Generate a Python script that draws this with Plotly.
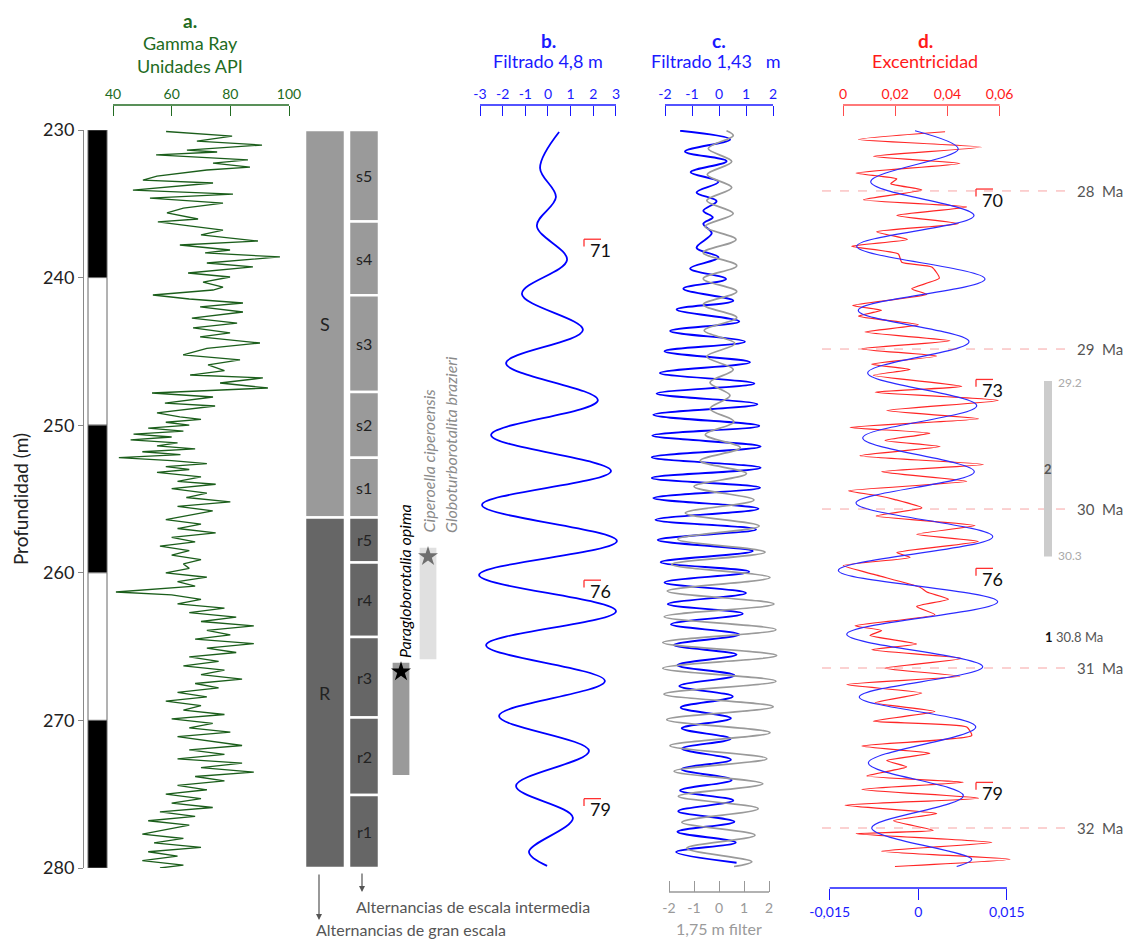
import plotly.graph_objects as go

W, H = 1124, 941
def px(x):
    return x / W
def py(y):
    return 1 - y / H

FONT = "Lato"
GREEN = "#226b22"
BLUE = "#1a1aff"
RED = "#ff1a1a"

# ---------------- data ----------------
depth_ticks = [230, 240, 250, 260, 270, 280]
bw_bounds = [230, 240, 250, 260, 270, 280]
bw_colors = ["black", "white", "black", "white", "black"]

gr_depth = [230.1, 230.2, 230.41, 230.75, 231.02, 231.36, 231.49, 231.69, 232.03, 232.24,
            232.51, 232.71, 233.12, 233.39, 233.59, 234.07, 234.34, 234.61, 234.95, 235.3,
            235.62, 236.03, 236.23, 236.5, 236.78, 237.1, 237.52, 237.79, 238.13, 238.33,
            238.6, 239.01, 239.28, 239.69, 239.96, 240.3, 240.64, 240.84, 241.18, 241.45,
            241.72, 241.99, 242.33, 242.74, 243.08, 243.41, 243.75, 244.02, 244.43, 244.8,
            245.24, 245.58, 245.92, 246.3, 246.6, 246.8, 247.14, 247.48, 247.82, 248.09,
            248.5, 248.7, 249.17, 249.44, 249.6, 249.8, 250.0, 250.2, 250.4, 250.6,
            250.8, 251.0, 251.2, 251.4, 251.6, 251.8, 252.0, 252.2, 252.4, 252.6,
            252.8, 253.0, 253.2, 253.5, 253.8, 254.0, 254.3, 254.6, 254.9, 255.2,
            255.5, 255.8, 256.1, 256.4, 256.7, 257.0, 257.3, 257.6, 257.9, 258.2,
            258.5, 258.8, 259.1, 259.4, 259.7, 260.0, 260.3, 260.6, 260.9, 261.1,
            261.3, 261.5, 261.8, 262.1, 262.4, 262.7, 263.0, 263.3, 263.6, 263.9,
            264.2, 264.5, 264.8, 265.1, 265.4, 265.7, 266.0, 266.3, 266.6, 266.9,
            267.2, 267.5, 267.8, 268.1, 268.4, 268.7, 269.0, 269.3, 269.6, 269.9,
            270.2, 270.5, 270.8, 271.1, 271.4, 271.7, 272.0, 272.3, 272.6, 272.9,
            273.2, 273.5, 273.8, 274.1, 274.4, 274.7, 275.0, 275.3, 275.6, 275.9,
            276.2, 276.5, 276.8, 277.1, 277.4, 277.7, 278.0, 278.3, 278.6, 278.9,
            279.2, 279.5, 279.8, 280.0]
gr_api = [58.1, 66.3, 80.6, 68.6, 90.8, 65.2, 75.5, 54.7, 86.0, 74.1,
          86.7, 72.0, 55.0, 50.2, 74.1, 46.8, 80.9, 52.6, 77.5, 64.0,
          58.4, 69.0, 55.3, 66.0, 77.5, 70.0, 89.4, 62.8, 79.9, 71.4,
          96.9, 72.0, 87.7, 65.6, 79.9, 70.7, 77.5, 74.1, 53.6, 66.0,
          84.3, 69.7, 84.3, 66.9, 82.3, 67.3, 79.9, 69.7, 90.1, 72.0,
          63.9, 83.3, 72.4, 78.0, 66.3, 91.1, 76.5, 92.8, 53.3, 74.1,
          57.7, 74.8, 55.0, 62.8, 70.0, 58.0, 66.0, 52.0, 64.0, 47.0,
          60.0, 46.0, 62.0, 55.0, 68.0, 50.0, 63.0, 42.0, 60.0, 72.0,
          58.0, 66.0, 55.0, 70.0, 62.0, 75.0, 60.0, 72.0, 65.0, 80.0,
          62.0, 74.0, 66.0, 58.0, 70.0, 62.0, 75.0, 60.0, 68.0, 56.0,
          66.0, 60.0, 70.0, 64.0, 66.0, 58.0, 72.0, 62.0, 68.0, 55.0,
          41.0, 60.0, 70.0, 62.0, 78.0, 66.0, 82.0, 70.0, 88.0, 72.0,
          80.0, 68.0, 88.0, 72.0, 82.0, 66.0, 76.0, 64.0, 78.0, 70.0,
          84.0, 68.0, 76.0, 62.0, 72.0, 58.0, 70.0, 64.0, 78.0, 60.0,
          74.0, 66.0, 80.0, 62.0, 74.0, 84.0, 66.0, 78.0, 62.0, 84.0,
          70.0, 88.0, 68.0, 78.0, 62.0, 72.0, 58.0, 70.0, 60.0, 74.0,
          56.0, 68.0, 52.0, 66.0, 58.0, 50.0, 64.0, 54.0, 70.0, 52.0,
          62.0, 50.0, 64.0, 56.0]

b_depth = [230.14, 232.57, 234.54, 236.5, 238.8, 241.1, 243.55, 245.8, 248.3, 250.66,
           253.1, 255.4, 257.85, 260.15, 262.6, 264.9, 267.33, 269.7, 272.07, 274.44,
           276.6, 278.9, 279.86]
b_val = [0.49, -0.35, 0.35, -0.49, 0.84, -1.15, 1.54, -1.85, 2.2, -2.51,
         2.78, -2.91, 3.04, -3.04, 3.0, -2.73, 2.51, -2.16, 1.81, -1.41,
         1.1, -0.84, -0.04]

c_depth = [230.05, 230.64, 231.46, 232.11, 232.86, 233.51, 234.23, 234.82, 235.47, 235.92,
           236.35, 237.0, 237.98, 238.63, 239.38, 240.1, 240.75, 241.57, 242.16, 242.97,
           243.62, 244.34, 244.99, 245.74, 246.46, 247.18, 247.86, 248.58, 249.3, 250.05,
           250.7, 251.45, 252.17, 252.89, 253.57, 254.23, 254.94, 255.66, 256.41, 257.06,
           257.78, 258.53, 259.28, 259.93, 260.65, 261.37, 262.12, 262.77, 263.49, 264.18,
           264.89, 265.54, 266.26, 266.95, 267.67, 268.38, 269.13, 269.85, 270.54, 271.25,
           271.91, 272.66, 273.31, 274.03, 274.75, 275.43, 276.15, 276.86, 277.55, 278.27,
           278.92, 279.64]
c_val = [-1.44, 0.41, -1.26, 0.28, -1.05, -0.02, -0.83, -0.09, -0.58, -0.23,
         -0.58, -0.27, -0.83, -0.02, -1.07, 0.26, -1.32, 0.53, -1.57, 0.75,
         -1.81, 0.96, -2.02, 1.15, -2.19, 1.31, -2.31, 1.42, -2.43, 1.49,
         -2.47, 1.54, -2.49, 1.54, -2.49, 1.52, -2.43, 1.46, -2.35, 1.37,
         -2.27, 1.25, -2.16, 1.12, -2.02, 1.0, -1.9, 0.88, -1.78, 0.75,
         -1.67, 0.65, -1.54, 0.57, -1.47, 0.51, -1.42, 0.44, -1.38, 0.43,
         -1.37, 0.44, -1.39, 0.47, -1.44, 0.53, -1.51, 0.57, -1.54, 0.62,
         -1.59, 0.65]

cg_depth = [230.05, 230.38, 231.26, 232.14, 233.02, 233.9, 234.78, 235.66, 236.54, 237.42,
            238.31, 239.19, 240.07, 240.95, 241.83, 242.71, 243.59, 244.47, 245.35, 246.23,
            247.11, 247.99, 248.88, 249.76, 250.64, 251.52, 252.4, 253.28, 254.16, 255.07,
            255.95, 256.83, 257.72, 258.6, 259.44, 260.32, 261.24, 262.12, 262.97, 263.85,
            264.73, 265.61, 266.46, 267.34, 268.22, 269.07, 269.95, 270.83, 271.71, 272.59,
            273.44, 274.29, 275.14, 275.98, 276.9, 277.78, 278.66, 279.57, 279.9]
cg_val = [0.3, 0.57, -0.43, 0.51, -0.47, 0.51, -0.49, 0.57, -0.56, 0.68,
          -0.63, 0.71, -0.63, 0.71, -0.63, 0.71, -0.59, 0.64, -0.49, 0.57,
          -0.36, 0.44, -0.36, 0.6, -0.55, 0.85, -0.75, 1.1, -1.0, 1.4,
          -1.35, 1.61, -1.65, 1.84, -1.89, 2.04, -2.07, 2.2, -2.19, 2.28,
          -2.25, 2.31, -2.25, 2.28, -2.2, 2.17, -2.09, 2.04, -1.96, 1.91,
          -1.8, 1.75, -1.63, 1.57, -1.49, 1.44, -1.29, 1.31, 0.6]

d_red_depth = [230.12, 230.64, 231.16, 231.78, 232.27, 232.92, 233.31, 233.64, 234.06, 234.72,
               235.21, 235.79, 236.35, 236.9, 237.42, 237.88, 238.4, 238.96, 239.28, 240.04,
               240.75, 241.14, 241.89, 242.22, 242.61, 243.2, 243.69, 244.28, 244.83, 245.32,
               245.87, 246.23, 246.62, 247.37, 247.77, 248.32, 249.01, 249.56, 250.15, 250.54,
               251.03, 251.45, 252.07, 252.66, 253.15, 253.8, 254.45, 254.78, 255.04, 255.6,
               256.15, 256.8, 257.39, 257.88, 258.63, 258.96, 259.51, 260.16, 260.98, 261.3,
               261.79, 262.28, 262.84, 263.59, 263.91, 264.24, 264.83, 265.22, 265.81, 266.46,
               267.01, 267.57, 268.15, 268.81, 269.4, 270.05, 270.44, 271.03, 271.74, 272.23,
               272.72, 273.15, 273.77, 274.19, 274.68, 275.27, 275.75, 276.31, 276.8, 277.45,
               277.68, 278.27, 278.86, 279.41, 279.9]
d_red_val = [0.0391, 0.0059, 0.0531, 0.0116, 0.0448, 0.005, 0.0206, 0.0183, 0.0302, 0.0078,
             0.0474, 0.0206, 0.0442, 0.0129, 0.0247, 0.0033, 0.0212, 0.0225, 0.034, 0.0369,
             0.0263, 0.0321, 0.0037, 0.0148, 0.0059, 0.0289, 0.0084, 0.041, 0.0072, 0.0359,
             0.011, 0.0257, 0.0116, 0.0455, 0.0123, 0.0595, 0.0167, 0.0519, 0.0027, 0.0333,
             0.0161, 0.0372, 0.0065, 0.0538, 0.0148, 0.0474, 0.0021, 0.0135, 0.0199, 0.0302,
             0.0127, 0.0506, 0.0282, 0.0519, 0.0206, 0.0257, 0.0001, 0.0129, 0.0295, 0.0321,
             0.0404, 0.0282, 0.0352, 0.0046, 0.0148, 0.0103, 0.0282, 0.011, 0.0455, 0.0161,
             0.0448, 0.0014, 0.0302, 0.0123, 0.0352, 0.0116, 0.0474, 0.0493, 0.0072, 0.0333,
             0.0167, 0.0244, 0.0091, 0.0461, 0.0072, 0.0519, 0.0008, 0.0359, 0.0193, 0.0346,
             0.005, 0.057, 0.0148, 0.064, 0.0199]

d_blue_depth = [230.05, 231.29, 233.51, 235.79, 237.88, 240.1, 242.22, 244.34, 246.46, 248.68,
                250.86, 253.15, 255.27, 257.55, 259.84, 261.96, 264.17, 266.36, 268.41, 270.44,
                272.89, 275.1, 277.29, 279.41, 279.9]
d_blue_val = [-0.00056, 0.00677, -0.00806, 0.00943, -0.01043, 0.01129, -0.01016, 0.00858, -0.00857, 0.00989,
              -0.00941, 0.00948, -0.01055, 0.0126, -0.01354, 0.01344, -0.01212, 0.0109, -0.00999, 0.00972,
              -0.00846, 0.00762, -0.00789, 0.00904, 0.0065]

big_units = ["S", "R"]
big_bounds = [230, 256.25, 280]
big_colors = ["#9a9a9a", "#666666"]
small_units = ["s5", "s4", "s3", "s2", "s1", "r5", "r4", "r3", "r2", "r1"]
small_bounds = [230, 236.2, 241.2, 247.75, 252.2, 256.25, 259.3, 264.35, 269.8, 275.05, 280]

bio_names = ["Paragloborotalia opima", "Ciperoella ciperoensis"]
bio_top = [266.1, 258.3]
bio_base = [273.7, 265.85]
bio_star = [266.7, 258.9]
bio_colors = ["#9a9a9a", "#e0e0e0"]
bio_star_colors = ["black", "#6e6e6e"]
bio_extra_name = "Globoturborotalita brazieri"

ma_labels = ["28\u00a0\u00a0Ma", "29\u00a0\u00a0Ma", "30\u00a0\u00a0Ma", "31\u00a0\u00a0Ma", "32\u00a0\u00a0Ma"]
ma_depth = [234.13, 244.84, 255.68, 266.45, 277.29]

chron_b = ["71", "76", "79"]
chron_b_depth = [237.4, 260.5, 275.3]
chron_d = ["70", "73", "76", "79"]
chron_d_depth = [234.0, 246.9, 259.7, 274.2]

bar2_top, bar2_base = 247.0, 258.9
bar2_labels = ["29.2", "30.3"]
datum1_depth = 264.35

gr_ticks = [40, 60, 80, 100]
b_ticks = [-3, -2, -1, 0, 1, 2, 3]
b_ticktext = ["-3", "-2", "-1", "0", "1", "2", "3"]
c_ticks = [-2, -1, 0, 1, 2]
c_ticktext = ["-2", "-1", "0", "1", "2"]
d_ticks = [0, 0.02, 0.04, 0.06]
d_ticktext = ["0", "0,02", "0,04", "0,06"]
db_ticks = [-0.015, 0, 0.015]
db_ticktext = ["-0,015", "0", "0,015"]

# ---------------- figure ----------------
fig = go.Figure()
fig.add_trace(go.Scatter(x=gr_api, y=gr_depth, xaxis="x", yaxis="y", mode="lines",
                         line=dict(color="#1b5e1b", width=1.3)))
fig.add_trace(go.Scatter(x=b_val, y=b_depth, xaxis="x2", yaxis="y", mode="lines",
                         line=dict(color="#0000ff", width=1.8, shape="spline", smoothing=1.0)))
fig.add_trace(go.Scatter(x=cg_val, y=cg_depth, xaxis="x4", yaxis="y", mode="lines",
                         line=dict(color="#9a9a9a", width=1.7, shape="spline", smoothing=1.0)))
fig.add_trace(go.Scatter(x=c_val, y=c_depth, xaxis="x3", yaxis="y", mode="lines",
                         line=dict(color="#0000ff", width=1.9, shape="spline", smoothing=1.0)))
fig.add_trace(go.Scatter(x=d_red_val, y=d_red_depth, xaxis="x5", yaxis="y", mode="lines",
                         line=dict(color="rgba(255,0,0,0.85)", width=1.2, shape="spline", smoothing=0.5)))
fig.add_trace(go.Scatter(x=d_blue_val, y=d_blue_depth, xaxis="x6", yaxis="y", mode="lines",
                         line=dict(color="#2b2bff", width=1.2, shape="spline", smoothing=1.0)))
fig.add_trace(go.Scatter(x=[1.0, 2.0], y=bio_star, xaxis="x7", yaxis="y", mode="markers",
                         marker=dict(symbol="star", size=15, color=bio_star_colors, line=dict(width=0))))

shapes = []
annotations = []

def text_at(x, y, text, size, color, xanchor="center", xref="paper", yref="paper", **kw):
    annotations.append(dict(x=x, y=y, xref=xref, yref=yref, text=text, showarrow=False,
                            xanchor=xanchor, yanchor=kw.pop("yanchor", "middle"),
                            font=dict(size=size, color=color), **kw))

# depth black/white column
for i, col in enumerate(bw_colors):
    shapes.append(dict(type="rect", xref="paper", yref="y", x0=px(88), x1=px(107),
                       y0=bw_bounds[i], y1=bw_bounds[i + 1], fillcolor=col,
                       line=dict(color="#666", width=1), layer="below"))

# stratigraphic columns
for i, u in enumerate(big_units):
    shapes.append(dict(type="rect", xref="paper", yref="y", x0=px(305), x1=px(345),
                       y0=big_bounds[i], y1=big_bounds[i + 1], fillcolor=big_colors[i],
                       line=dict(color="white", width=2.5)))
    text_at(px(325), (big_bounds[i] + big_bounds[i + 1]) / 2, u, 18, "#222", yref="y")
for i, u in enumerate(small_units):
    col = big_colors[0] if u.startswith("s") else big_colors[1]
    shapes.append(dict(type="rect", xref="paper", yref="y", x0=px(349), x1=px(379),
                       y0=small_bounds[i], y1=small_bounds[i + 1], fillcolor=col,
                       line=dict(color="white", width=2.5)))
    text_at(px(364), (small_bounds[i] + small_bounds[i + 1]) / 2, u, 16, "#222", yref="y")

# arrows below the columns
annotations.append(dict(x=px(319), y=py(920), xref="paper", yref="paper", ax=0, ay=-47, text="",
                        showarrow=True, arrowhead=2, arrowsize=1, arrowwidth=1.2, arrowcolor="#555"))
annotations.append(dict(x=px(362), y=py(892), xref="paper", yref="paper", ax=0, ay=-20, text="",
                        showarrow=True, arrowhead=2, arrowsize=1, arrowwidth=1.2, arrowcolor="#555"))
text_at(px(354), py(906), "Alternancias de escala intermedia", 16, "#555", xanchor="left")
text_at(px(314), py(929), "Alternancias de gran escala", 16, "#555", xanchor="left")

# biostratigraphy bars
for i in range(2):
    shapes.append(dict(type="rect", xref="x7", yref="y", x0=i + 0.69, x1=i + 1.31,
                       y0=bio_top[i], y1=bio_base[i], fillcolor=bio_colors[i], line=dict(width=0),
                       layer="below"))
text_at(1.15, bio_top[0] - 0.2, "<i>" + bio_names[0] + "</i>", 16, "black",
        xref="x7", yref="y", yanchor="bottom", textangle=-90)
text_at(2.0, bio_top[1] - 0.9, "<i>" + bio_names[1] + "</i>", 16, "#8a8a8a",
        xref="x7", yref="y", yanchor="bottom", textangle=-90)
text_at(2.85, bio_top[1] - 0.9, "<i>" + bio_extra_name + "</i>", 16, "#8a8a8a",
        xref="x7", yref="y", yanchor="bottom", textangle=-90)

# axis bars (horizontal lines joining the ticks)
def bar(xref, lo, hi, ypix, color):
    shapes.append(dict(type="line", xref=xref, yref="paper", x0=lo, x1=hi, y0=py(ypix), y1=py(ypix),
                       line=dict(color=color, width=1.5)))
bar("x", 40, 100, 105, GREEN)
bar("x2", -3, 3, 105, BLUE)
bar("x3", -2, 2, 105, BLUE)
bar("x5", 0, 0.06, 105, "#ff4d4d")
bar("x4", -2, 2, 892, "#999")
bar("x6", -0.015, 0.015, 888, BLUE)

# age lines
for lab, d in zip(ma_labels, ma_depth):
    shapes.append(dict(type="line", xref="paper", yref="y", x0=px(822), x1=px(1068), y0=d, y1=d,
                       line=dict(color="rgba(240,90,90,0.55)", width=1, dash="dash")))
    text_at(px(1075), d, lab, 15, "#555", xanchor="left", yref="y")

# chron brackets
def chron(lbl, d, xl):
    shapes.append(dict(type="line", xref="paper", yref="y", x0=px(xl), x1=px(xl + 17), y0=d, y1=d,
                       line=dict(color="#ff3030", width=1.3)))
    shapes.append(dict(type="line", xref="paper", yref="y", x0=px(xl), x1=px(xl), y0=d, y1=d + 0.5,
                       line=dict(color="#ff3030", width=1.3)))
    text_at(px(xl + 4), d + 0.72, lbl, 18, "#111", xanchor="left", yref="y")
for lbl, d in zip(chron_b, chron_b_depth):
    chron(lbl, d, 584)
for lbl, d in zip(chron_d, chron_d_depth):
    chron(lbl, d, 976)

# grey bar "2" and datum "1"
shapes.append(dict(type="rect", xref="paper", yref="y", x0=px(1044), x1=px(1052), y0=bar2_top, y1=bar2_base,
                   fillcolor="#cccccc", line=dict(width=0)))
text_at(px(1056), bar2_top + 0.1, bar2_labels[0], 12, "#aaa", xanchor="left", yref="y")
text_at(px(1056), bar2_base - 0.1, bar2_labels[1], 12, "#aaa", xanchor="left", yref="y")
text_at(px(1048), (bar2_top + bar2_base) / 2, "<b>2</b>", 13, "#555", yref="y")
text_at(px(1043), datum1_depth, "<b>1</b> <span style='color:#555'>30.8 Ma</span>", 13, "#111",
        xanchor="left", yref="y")

# titles
text_at(px(190), py(20), "<b>a.</b>", 19, GREEN)
text_at(px(190), py(43), "Gamma Ray", 18, GREEN)
text_at(px(190), py(66), "Unidades API", 18, GREEN)
text_at(px(548), py(40), "<b>b.</b>", 19, BLUE)
text_at(px(548), py(61), "Filtrado 4,8 m", 18, BLUE)
text_at(px(719), py(40), "<b>c.</b>", 19, BLUE)
text_at(px(716), py(61), "Filtrado 1,43\u00a0\u00a0\u00a0m", 18, BLUE)
text_at(px(925), py(40), "<b>d.</b>", 19, RED)
text_at(px(925), py(61), "Excentricidad", 18, RED)
text_at(px(719), py(928), "1,75 m filter", 16, "#9a9a9a")

common = dict(showgrid=False, zeroline=False, showline=False, anchor="free", fixedrange=True,
              automargin=False)
top_pos = py(105)

fig.update_layout(
    width=W, height=H,
    margin=dict(l=0, r=0, t=0, b=0, pad=0, autoexpand=False),
    paper_bgcolor="white", plot_bgcolor="rgba(0,0,0,0)",
    showlegend=False, hovermode=False,
    font=dict(family=FONT),
    yaxis=dict(domain=[py(868), py(130)], range=[280, 230], anchor="free", position=px(83),
               showgrid=False, zeroline=False, showline=True, linecolor="#888", linewidth=1,
               ticks="outside", ticklen=5, tickcolor="#888", tickvals=depth_ticks, automargin=False,
               tickfont=dict(size=18, color="#222"),
               title=dict(text="Profundidad (m)", font=dict(size=19, color="#222"), standoff=8)),
    xaxis=dict(domain=[px(100), px(300)], range=[35.57, 103.75], side="top", position=top_pos,
               ticks="inside", ticklen=10, tickwidth=1.3, tickcolor=GREEN, tickvals=gr_ticks,
               tickfont=dict(size=14, color=GREEN), ticklabelstandoff=3, **common),
    xaxis2=dict(domain=[px(470), px(630)], range=[-3.441, 3.618], side="top", position=top_pos,
                ticks="inside", ticklen=10, tickwidth=1.3, tickcolor=BLUE, tickvals=b_ticks,
                ticktext=b_ticktext, tickfont=dict(size=14, color=BLUE), ticklabelstandoff=3, **common),
    xaxis3=dict(domain=[px(640), px(800)], range=[-2.926, 3.0], side="top", position=top_pos,
                ticks="inside", ticklen=10, tickwidth=1.3, tickcolor=BLUE, tickvals=c_ticks,
                ticktext=c_ticktext, tickfont=dict(size=14, color=BLUE), ticklabelstandoff=3, **common),
    xaxis4=dict(overlaying="x3", range=[-3.16, 3.24], side="bottom", position=py(892),
                ticks="inside", ticklen=11, tickwidth=1.3, tickcolor="#999", tickvals=c_ticks,
                ticktext=c_ticktext, tickfont=dict(size=14, color="#999"), ticklabelstandoff=6, **common),
    xaxis5=dict(domain=[px(825), px(1020)], range=[-0.0069, 0.0678], side="top", position=top_pos,
                ticks="inside", ticklen=10, tickwidth=1.3, tickcolor="#ff4d4d", tickvals=d_ticks,
                ticktext=d_ticktext, tickfont=dict(size=14, color=RED), ticklabelstandoff=3, **common),
    xaxis6=dict(overlaying="x5", range=[-0.0158, 0.01722], side="bottom", position=py(888),
                ticks="outside", ticklen=11, tickwidth=1.3, tickcolor=BLUE, tickvals=db_ticks,
                ticktext=db_ticktext, tickfont=dict(size=14, color=BLUE), **common),
    xaxis7=dict(domain=[px(385), px(465)], range=[0.407, 3.37], visible=False, **common),
    shapes=shapes,
    annotations=annotations,
)

fig.write_html("out.html")
